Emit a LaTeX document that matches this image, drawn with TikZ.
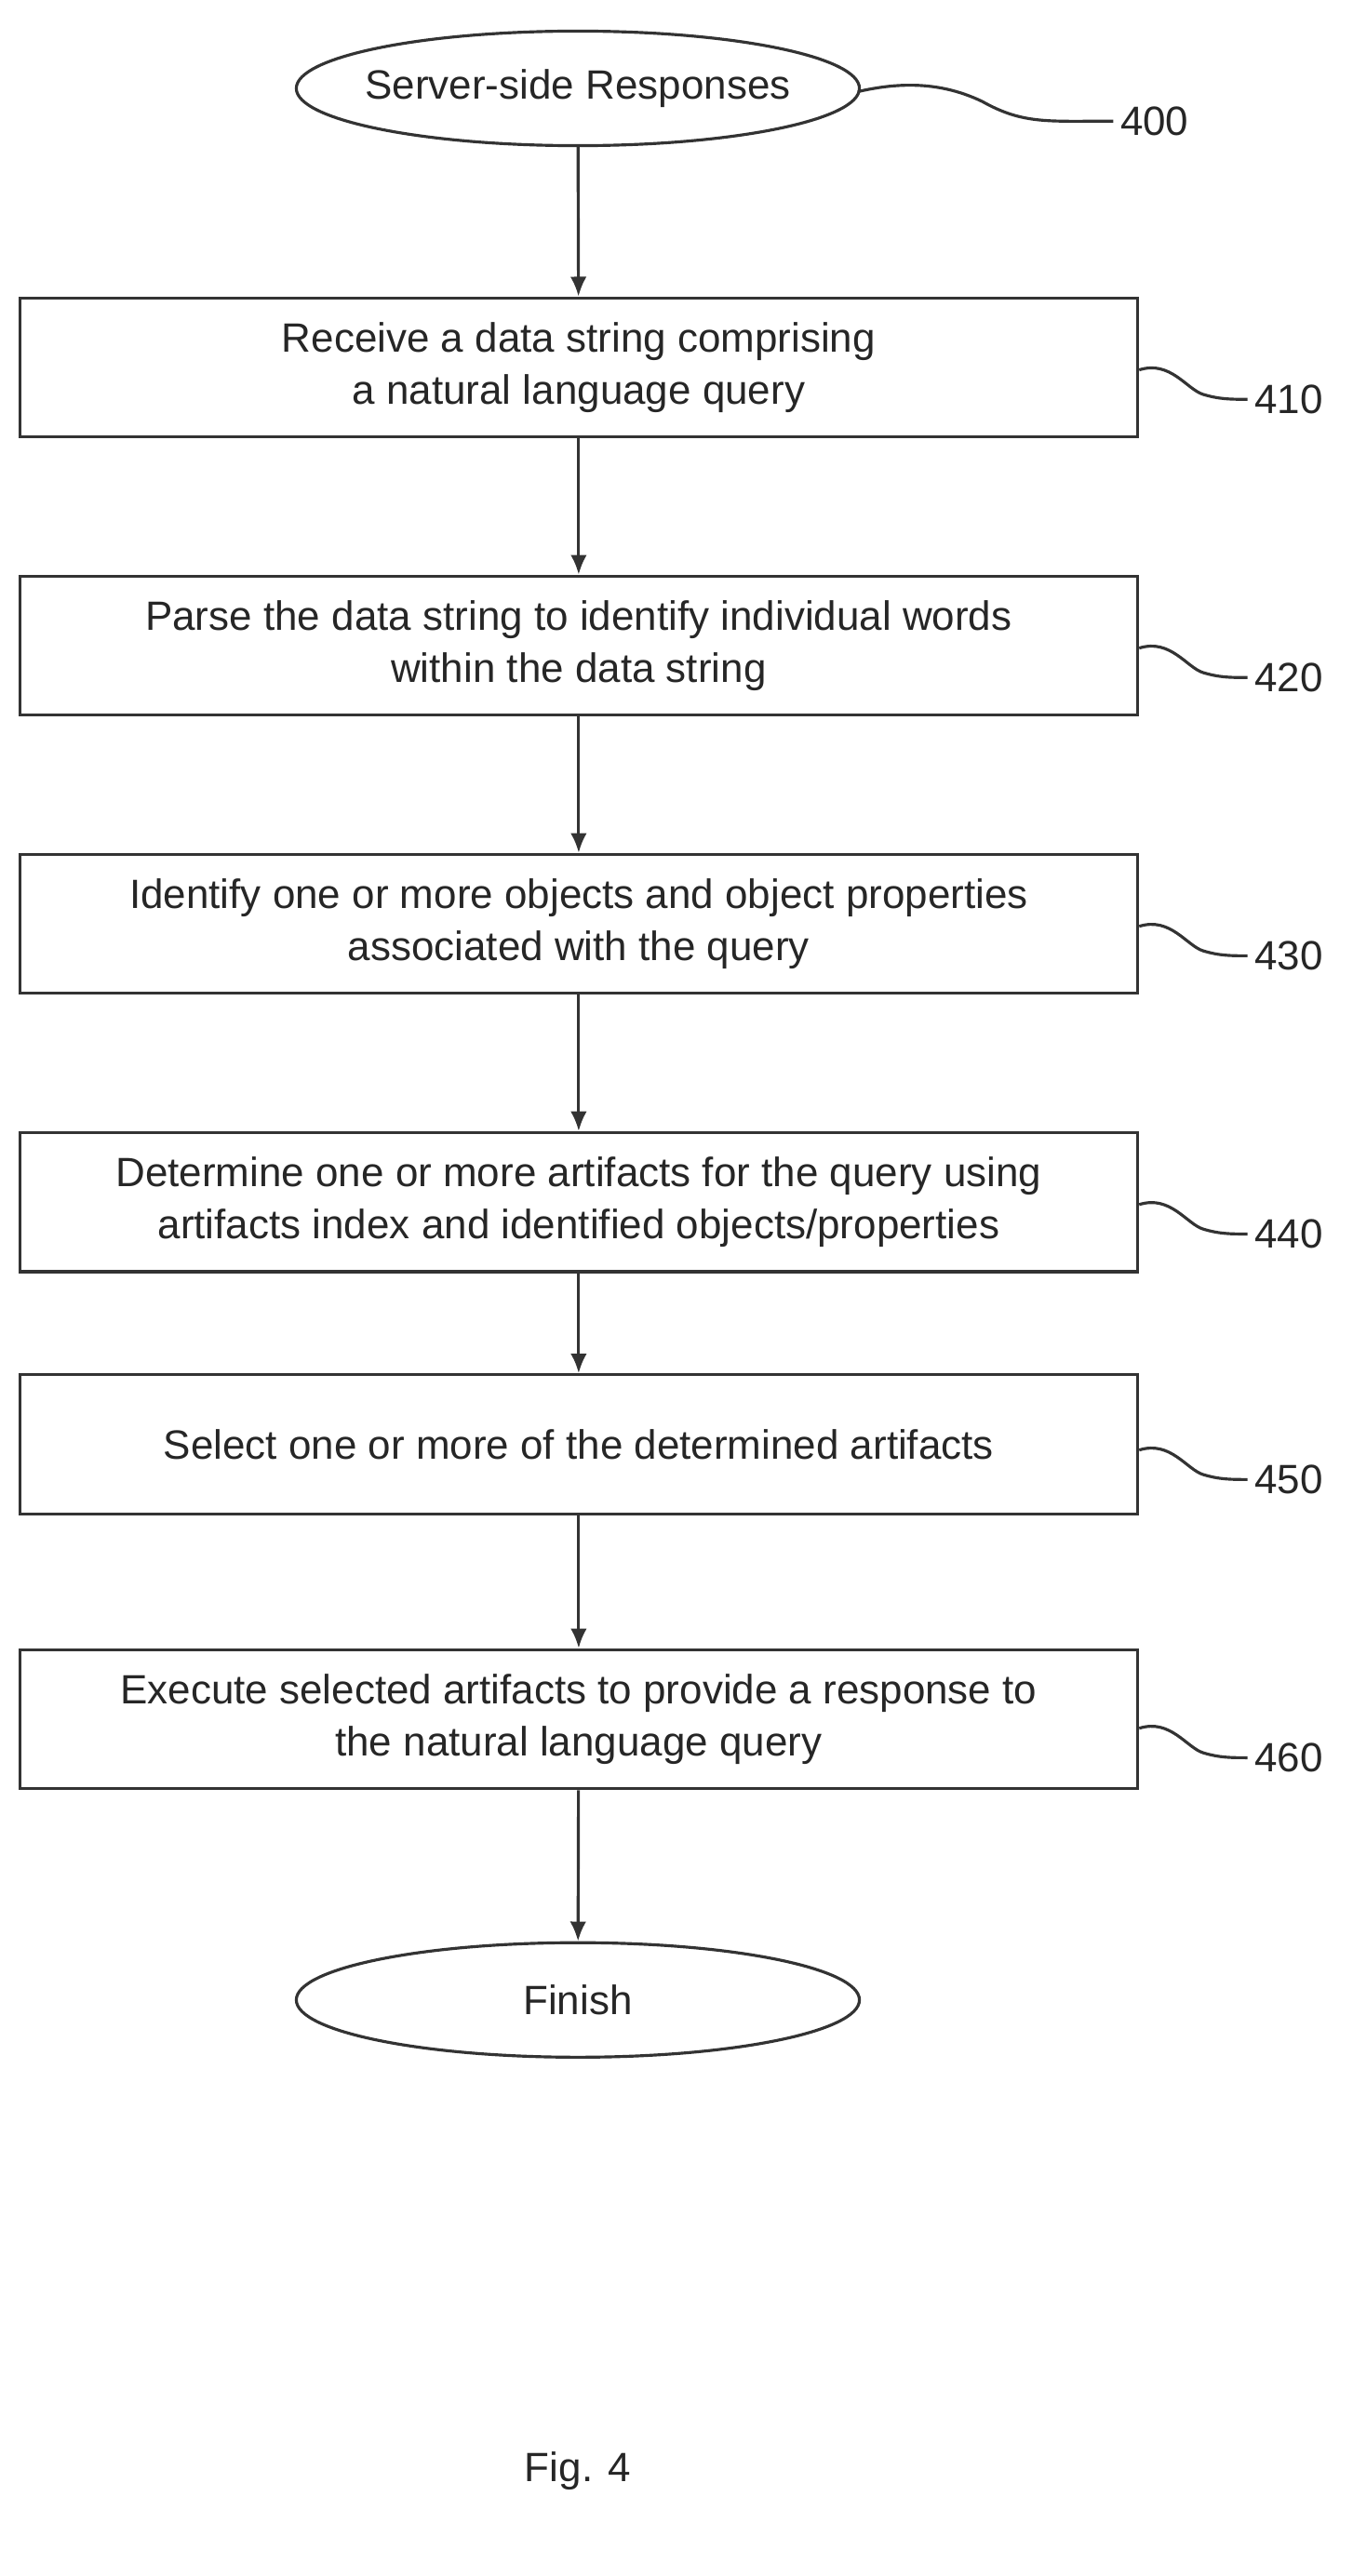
\documentclass[tikz,border=0pt]{standalone}
\usepackage{fontspec}
\setmainfont{Liberation Sans}
\usetikzlibrary{arrows.meta,shapes.geometric}
\begin{document}
\begin{tikzpicture}[x=0.5pt,y=-0.5pt,
  box/.style={draw=black!80,line width=0.9pt,minimum width=341.5pt,minimum height=42.5pt,align=center,font=\fontsize{12.5}{16}\selectfont,text=black!85,inner sep=0pt},
  term/.style={draw=black!80,line width=0.9pt,ellipse,minimum width=172pt,minimum height=35pt,font=\fontsize{12.5}{15}\selectfont,text=black!85,inner sep=0pt},
  lab/.style={font=\fontsize{12.5}{15}\selectfont,text=black!85,anchor=west,inner sep=0pt},
  arr/.style={draw=black!80,line width=0.9pt,-{Latex[length=6pt,width=5pt]}},
  sq/.style={draw=black!80,line width=0.9pt}]
\useasboundingbox (0,0) rectangle (826,1574);
\node[term,inner xsep=-14pt] (s) at (353,54) {Server-side Responses};
\node[box] (b1) at (353.5,224.5) {Receive a data string comprising\\a natural language query};
\node[box] (b2) at (353.5,394.5) {Parse the data string to identify individual words\\within the data string};
\node[box] (b3) at (353.5,564.5) {Identify one or more objects and object properties\\associated with the query};
\node[box] (b4) at (353.5,734.5) {Determine one or more artifacts for the query using\\artifacts index and identified objects/properties};
\node[box] (b5) at (353.5,882.5) {Select one or more of the determined artifacts};
\node[box] (b6) at (353.5,1050.5) {Execute selected artifacts to provide a response to\\the natural language query};
\node[term] (f) at (353,1222) {Finish};
\node at (353,1510) {\fontsize{12.5}{15}\selectfont\color{black!85}Fig. 4};
\draw[arr] (s) -- (b1);
\draw[arr] (b1) -- (b2);
\draw[arr] (b2) -- (b3);
\draw[arr] (b3) -- (b4);
\draw[arr] (b4) -- (b5);
\draw[arr] (b5) -- (b6);
\draw[arr] (b6) -- (f);
\node[lab] (l0) at (684,74) {400};
\coordinate (c0) at (524,56);
\draw[sq] (c0) .. controls (550,50) and (575,50) .. (600,62) .. controls (625,76) and (640,74) .. ([xshift=-2pt]l0.west);
\foreach \n/\y/\b in {410/244/b1,420/414/b2,430/584/b3,440/754/b4,450/904/b5,460/1074/b6}{
  \node[lab] (l\n) at (766,\y) {\n};
  \draw[sq] (\b.east |- 0,\y-18) .. controls (715,\y-24) and (725,\y-6) .. (735,\y-3) .. controls (745,\y) and (752,\y) .. ([xshift=-2pt]l\n.west);
}
\end{tikzpicture}
\end{document}
